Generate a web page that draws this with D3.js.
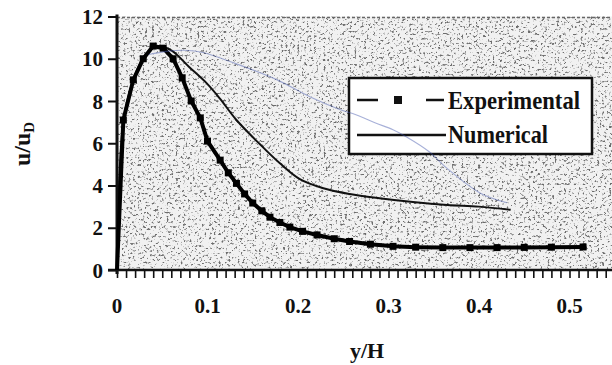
<!DOCTYPE html>
<html>
<head>
<meta charset="utf-8">
<script src="https://cdn.jsdelivr.net/npm/d3@7/dist/d3.min.js"></script>
<style>
  html, body { margin: 0; padding: 0; background: #fff; }
  svg { display: block; }
  text { font-family: "Liberation Serif", "DejaVu Serif", serif; font-weight: bold; fill: #111; }
</style>
</head>
<body>
<div id="chart"></div>
<script>
// y/H positions and u/uD values
const expX = [0, 0.007, 0.018, 0.029, 0.040, 0.051, 0.062, 0.072, 0.082, 0.092, 0.100, 0.114, 0.123, 0.132, 0.141, 0.150, 0.160, 0.169, 0.180, 0.191, 0.205, 0.221, 0.240, 0.257, 0.280, 0.305, 0.330, 0.360, 0.390, 0.420, 0.450, 0.480, 0.515];
const expU = [0, 7.1, 9.0, 10.0, 10.6, 10.5, 10.0, 9.1, 8.0, 7.2, 6.1, 5.2, 4.6, 4.1, 3.6, 3.17, 2.8, 2.5, 2.25, 2.03, 1.83, 1.66, 1.48, 1.35, 1.22, 1.12, 1.08, 1.06, 1.06, 1.06, 1.07, 1.08, 1.09];

const numX = [0, 0.007, 0.018, 0.030, 0.045, 0.060, 0.080, 0.100, 0.114, 0.132, 0.158, 0.180, 0.202, 0.228, 0.257, 0.290, 0.327, 0.365, 0.400, 0.435];
const numU = [0, 7.0, 9.0, 10.1, 10.6, 10.4, 9.6, 8.8, 8.1, 7.1, 5.95, 5.05, 4.3, 3.87, 3.6, 3.4, 3.22, 3.08, 3.0, 2.85];

// faint blue pen trace on the scan
const traceX = [0.035, 0.055, 0.075, 0.095, 0.128, 0.177, 0.213, 0.246, 0.264, 0.285, 0.305, 0.320, 0.345, 0.365, 0.401, 0.431];
const traceU = [10.2, 10.35, 10.4, 10.3, 9.82, 9.0, 8.2, 7.6, 7.35, 6.97, 6.64, 6.3, 5.6, 4.8, 3.65, 3.18];

const xTicks = [0, 0.1, 0.2, 0.3, 0.4, 0.5];
const yTicks = [0, 2, 4, 6, 8, 10, 12];
const legendNames = ['Experimental', 'Numerical'];
const legendWidths = [132, 100];

const width = 612, height = 365;
const x = d3.scaleLinear().domain([0, 0.55]).range([117, 614.75]);
const y = d3.scaleLinear().domain([0, 12]).range([270, 16.5]);

const svg = d3.select('#chart').append('svg')
  .attr('width', width)
  .attr('height', height);

// speckled scan background
const defs = svg.append('defs');
const f = defs.append('filter').attr('id', 'speckle')
  .attr('x', 0).attr('y', 0).attr('width', 1).attr('height', 1);
f.append('feTurbulence').attr('type', 'fractalNoise')
  .attr('baseFrequency', 0.42).attr('numOctaves', 3).attr('seed', 11);
f.append('feColorMatrix').attr('type', 'matrix')
  .attr('values', '0 0 0 0 0.15  0 0 0 0 0.15  0 0 0 0 0.15  -6 0 0 0 2.55');
f.append('feComposite').attr('in2', 'SourceGraphic').attr('operator', 'in');

svg.append('rect')
  .attr('x', x(0)).attr('y', y(12))
  .attr('width', width - x(0)).attr('height', y(0) - y(12))
  .attr('fill', '#f1f1f1');
svg.append('rect')
  .attr('x', x(0)).attr('y', y(12))
  .attr('width', width - x(0)).attr('height', y(0) - y(12))
  .attr('fill', '#000')
  .attr('filter', 'url(#speckle)');

// top edge of the shaded area
svg.append('line')
  .attr('x1', x(0)).attr('x2', width)
  .attr('y1', y(12) + 1).attr('y2', y(12) + 1)
  .attr('stroke', '#666').attr('stroke-width', 1.5)
  .attr('stroke-dasharray', '3,2');

// axes
const xAxis = d3.axisBottom(x)
  .tickValues(d3.range(0, 56).map(i => i / 100))
  .tickSize(8)
  .tickFormat('');
const gx = svg.append('g').attr('transform', `translate(0,${y(0)})`).call(xAxis);
gx.select('.domain').remove();
gx.selectAll('.tick line').attr('stroke', '#111').attr('stroke-width', 1.6);
svg.append('line')
  .attr('x1', 108).attr('x2', width)
  .attr('y1', y(0)).attr('y2', y(0))
  .attr('stroke', '#111').attr('stroke-width', 2.5);

svg.append('g').selectAll('text')
  .data(xTicks)
  .enter().append('text')
  .attr('x', d => x(d))
  .attr('y', 313)
  .attr('text-anchor', 'middle')
  .attr('font-size', 21)
  .text(d => d === 0 ? '0' : d3.format('.1f')(d));

const yAxis = d3.axisLeft(y).tickValues(yTicks).tickSize(9).tickFormat('');
const gy = svg.append('g').attr('transform', `translate(${x(0)},0)`).call(yAxis);
gy.select('.domain').remove();
gy.selectAll('.tick line').attr('stroke', '#111').attr('stroke-width', 2);
svg.append('line')
  .attr('x1', x(0)).attr('x2', x(0))
  .attr('y1', y(12) - 2).attr('y2', y(0) + 4)
  .attr('stroke', '#111').attr('stroke-width', 3);

svg.append('g').selectAll('text')
  .data(yTicks)
  .enter().append('text')
  .attr('x', 103)
  .attr('y', d => y(d) + 7.5)
  .attr('text-anchor', 'end')
  .attr('font-size', 21)
  .text(d => d);

// axis titles
svg.append('text')
  .attr('x', 367).attr('y', 358)
  .attr('text-anchor', 'middle')
  .attr('font-size', 22)
  .text('y/H');

const yt = svg.append('text')
  .attr('transform', 'translate(30,144) rotate(-90)')
  .attr('text-anchor', 'middle')
  .attr('font-size', 24);
yt.append('tspan').text('u/u');
yt.append('tspan').attr('font-size', 15).attr('dy', 4).text('D');

// curves
const line = d3.line().x(d => x(d[0])).y(d => y(d[1]));
const expData = d3.zip(expX, expU);
const numData = d3.zip(numX, numU);
const traceData = d3.zip(traceX, traceU);

svg.append('path')
  .datum(numData)
  .attr('d', line.curve(d3.curveCatmullRom.alpha(0.5)))
  .attr('fill', 'none')
  .attr('stroke', '#111')
  .attr('stroke-width', 2);

svg.append('path')
  .datum(expData)
  .attr('d', line.curve(d3.curveLinear))
  .attr('fill', 'none')
  .attr('stroke', '#000')
  .attr('stroke-width', 4);

svg.append('g').selectAll('rect')
  .data(expData.slice(1))
  .enter().append('rect')
  .attr('x', d => x(d[0]) - 3.5)
  .attr('y', d => y(d[1]) - 3.5)
  .attr('width', 7).attr('height', 7)
  .attr('fill', '#000');

// legend
const lg = svg.append('g');
lg.append('rect')
  .attr('x', 349).attr('y', 78)
  .attr('width', 243).attr('height', 76)
  .attr('fill', '#fff')
  .attr('stroke', '#111').attr('stroke-width', 2.5);
lg.append('line')
  .attr('x1', 357).attr('x2', 378).attr('y1', 100).attr('y2', 100)
  .attr('stroke', '#111').attr('stroke-width', 2.5);
lg.append('rect')
  .attr('x', 394).attr('y', 96).attr('width', 8).attr('height', 8)
  .attr('fill', '#111');
lg.append('line')
  .attr('x1', 426).attr('x2', 444).attr('y1', 100).attr('y2', 100)
  .attr('stroke', '#111').attr('stroke-width', 2.5);
lg.append('line')
  .attr('x1', 357).attr('x2', 446).attr('y1', 135).attr('y2', 135)
  .attr('stroke', '#111').attr('stroke-width', 2.5);
lg.selectAll('text.name')
  .data(legendNames)
  .enter().append('text')
  .attr('class', 'name')
  .attr('x', 448)
  .attr('y', (d, i) => 109 + i * 34)
  .attr('font-size', 25)
  .attr('textLength', (d, i) => legendWidths[i])
  .attr('lengthAdjust', 'spacingAndGlyphs')
  .text(d => d);

// blue trace, drawn over the legend as on the scan
svg.append('path')
  .datum(traceData)
  .attr('d', line.curve(d3.curveCatmullRom.alpha(0.5)))
  .attr('fill', 'none')
  .attr('stroke', '#3b4fa8')
  .attr('stroke-opacity', 0.45)
  .attr('stroke-width', 1.1);
</script>
</body>
</html>
